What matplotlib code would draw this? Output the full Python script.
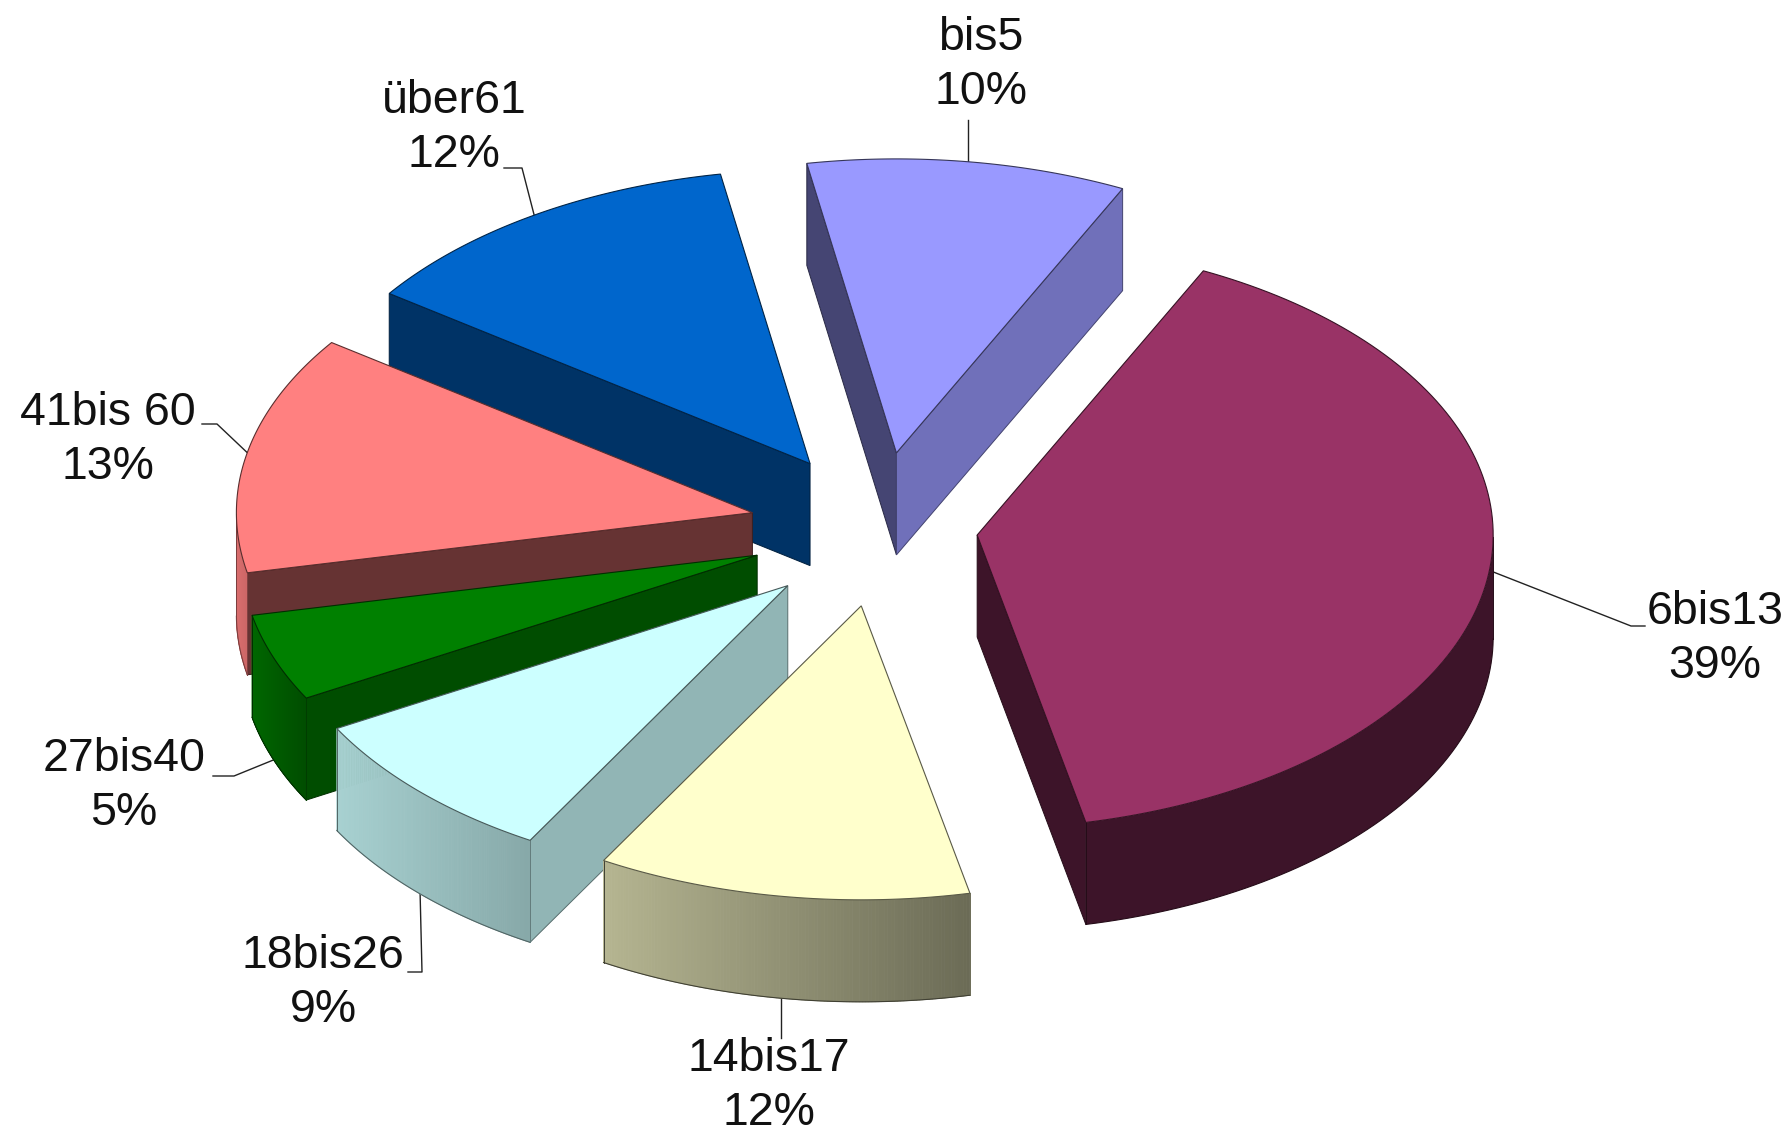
import matplotlib
matplotlib.use('Agg')
import matplotlib.pyplot as plt
from matplotlib.patches import Polygon
import numpy as np

# --- DATA ---
categories = ['bis5', '6bis13', '14bis17', '18bis26', '27bis40', '41bis 60', 'über61']
shares = [10.0, 39.4, 11.7, 8.6, 4.8, 13.1, 12.4]
pct_labels = ['10%', '39%', '12%', '9%', '5%', '13%', '12%']

# --- STYLE ---
top_colors = ['#9999FF', '#993366', '#FFFFCC', '#CCFFFF', '#008000', '#FF8080', '#0066CC']
# shade of the two straight walls (start, end) and of the rim (left, right)
wall_shades = [(0.45, 0.73), (0.4, 0.4), (0.6, 0.6), (0.71, 0.6), (0.6, 0.6), (0.4, 0.4), (0.5, 0.5)]
rim_shades = [(0.7, 0.7), (0.4, 0.4), (0.71, 0.42), (0.82, 0.66), (0.8, 0.6), (0.85, 0.8), (0.7, 0.7)]
# small correction of the explosion direction (degrees) and of the slice position (px)
explode_nudge = [-8, 0, 5, 0, 0, 0, 0]
apex_shift = [(-1, -3), (-2, -2), (3, 3), (3, 5), (-2, 1), (-2, 0), (5, -1)]

W, H = 1789, 1136
start_angle = 100.0
rx, ry = 516.0, 294.0      # ellipse radii of the pie top
depth = 102.0
cx, cy = 866.0, 528.0
ex, ey = 114.0, 75.0       # explosion distance

# label centre, and the leader line path after the rim anchor (None = same x as anchor)
label_pos = [(981, 65), (1715, 639), (769, 1086), (323, 983), (124, 786), (108, 440), (454, 128)]
leader_ends = [
    [(None, 120)],
    [(1631, 626), (1645, 626)],
    [(None, 1038)],
    [(422, 972), (408, 972)],
    [(234, 776), (213, 776)],
    [(217, 424), (202, 424)],
    [(522, 168), (504, 168)],
]


def shade(color, f):
    rgb = np.array(matplotlib.colors.to_rgb(color))
    return tuple(rgb * f)


def rim_xy(apex, t):
    t = np.radians(t)
    return np.column_stack([apex[0] + rx * np.cos(t), apex[1] - ry * np.sin(t)])


fig = plt.figure(figsize=(W / 100, H / 100), dpi=100)
ax = fig.add_axes([0, 0, 1, 1])
ax.set_xlim(0, W)
ax.set_ylim(H, 0)
ax.axis('off')

# --- SLICE ANGLES ---
spans = np.array(shares) / sum(shares) * 360
starts = start_angle - np.concatenate([[0], np.cumsum(spans)[:-1]])
ends = starts - spans
mids = (starts + ends) / 2

# back to front
order = list(np.argsort(-np.sin(np.radians(mids))))

apexes = []
for i in range(len(shares)):
    m = np.radians(mids[i] + explode_nudge[i])
    apexes.append((cx + ex * np.cos(m) + apex_shift[i][0], cy - ey * np.sin(m) + apex_shift[i][1]))

for i in order:
    apex = apexes[i]
    col = top_colors[i]
    base_z = 2 + order.index(i) * 3
    ts = np.linspace(starts[i], ends[i], 120)
    rim = rim_xy(apex, ts)
    mid_pt = rim_xy(apex, np.array([mids[i]]))[0]

    # straight walls, only the ones facing the viewer
    for k, t in enumerate([starts[i], ends[i]]):
        r = rim_xy(apex, np.array([t]))[0]
        line_y = apex[1] + (mid_pt[0] - apex[0]) * (r[1] - apex[1]) / (r[0] - apex[0])
        if mid_pt[1] < line_y:
            quad = [apex, r, (r[0], r[1] + depth), (apex[0], apex[1] + depth)]
            ax.add_patch(Polygon(quad, closed=True, fc=shade(col, wall_shades[i][k]),
                                 ec=shade(col, wall_shades[i][k] * 0.6), lw=0.7, zorder=base_z))

    # outer rim (front part only), drawn in strips for the gradient
    front = np.sin(np.radians(ts)) < 0
    if front.sum() > 1:
        fr = rim[front]
        left_f, right_f = rim_shades[i]
        if left_f == right_f:
            body = np.vstack([fr, fr[::-1] + [0, depth]])
            ax.add_patch(Polygon(body, closed=True, fc=shade(col, left_f), ec='none', zorder=base_z + 1))
        else:
            xmin, xmax = fr[:, 0].min(), fr[:, 0].max()
            for j in range(len(fr) - 1):
                p, q = fr[j], fr[j + 1]
                frac = ((p[0] + q[0]) / 2 - xmin) / max(xmax - xmin, 1)
                c = shade(col, left_f + (right_f - left_f) * frac)
                ax.add_patch(Polygon([p, q, (q[0], q[1] + depth), (p[0], p[1] + depth)],
                                     closed=True, fc=c, ec=c, lw=0.6, zorder=base_z + 1))
        ax.plot(fr[:, 0], fr[:, 1] + depth, color=shade(col, right_f * 0.6), lw=0.8, zorder=base_z + 1)
        ax.plot([fr[0, 0]] * 2, [fr[0, 1], fr[0, 1] + depth], color=shade(col, left_f * 0.6), lw=0.7, zorder=base_z + 1)
        ax.plot([fr[-1, 0]] * 2, [fr[-1, 1], fr[-1, 1] + depth], color=shade(col, right_f * 0.6), lw=0.7, zorder=base_z + 1)

    # top face
    outline = np.vstack([[apex], rim])
    ax.add_patch(Polygon(outline, closed=True, fc=col, ec=shade(col, 0.35), lw=0.8, zorder=base_z + 2))

# --- LABELS AND LEADER LINES ---
for i, name in enumerate(categories):
    anchor = rim_xy(apexes[i], np.array([mids[i]]))[0]
    if np.sin(np.radians(mids[i])) < -0.3:
        anchor = (anchor[0], anchor[1] + depth)
    pts = [tuple(anchor)] + [(anchor[0] if x is None else x, y) for x, y in leader_ends[i]]
    xs, ys = zip(*pts)
    ax.plot(xs, ys, color='#222222', lw=1.0, zorder=1)
    ax.text(label_pos[i][0], label_pos[i][1], f"{name}\n{pct_labels[i]}", ha='center', va='center',
            fontsize=33.5, family='Liberation Sans', color='#111111', linespacing=1.3, zorder=40)

fig.savefig('out.png', dpi=100, facecolor='white')
